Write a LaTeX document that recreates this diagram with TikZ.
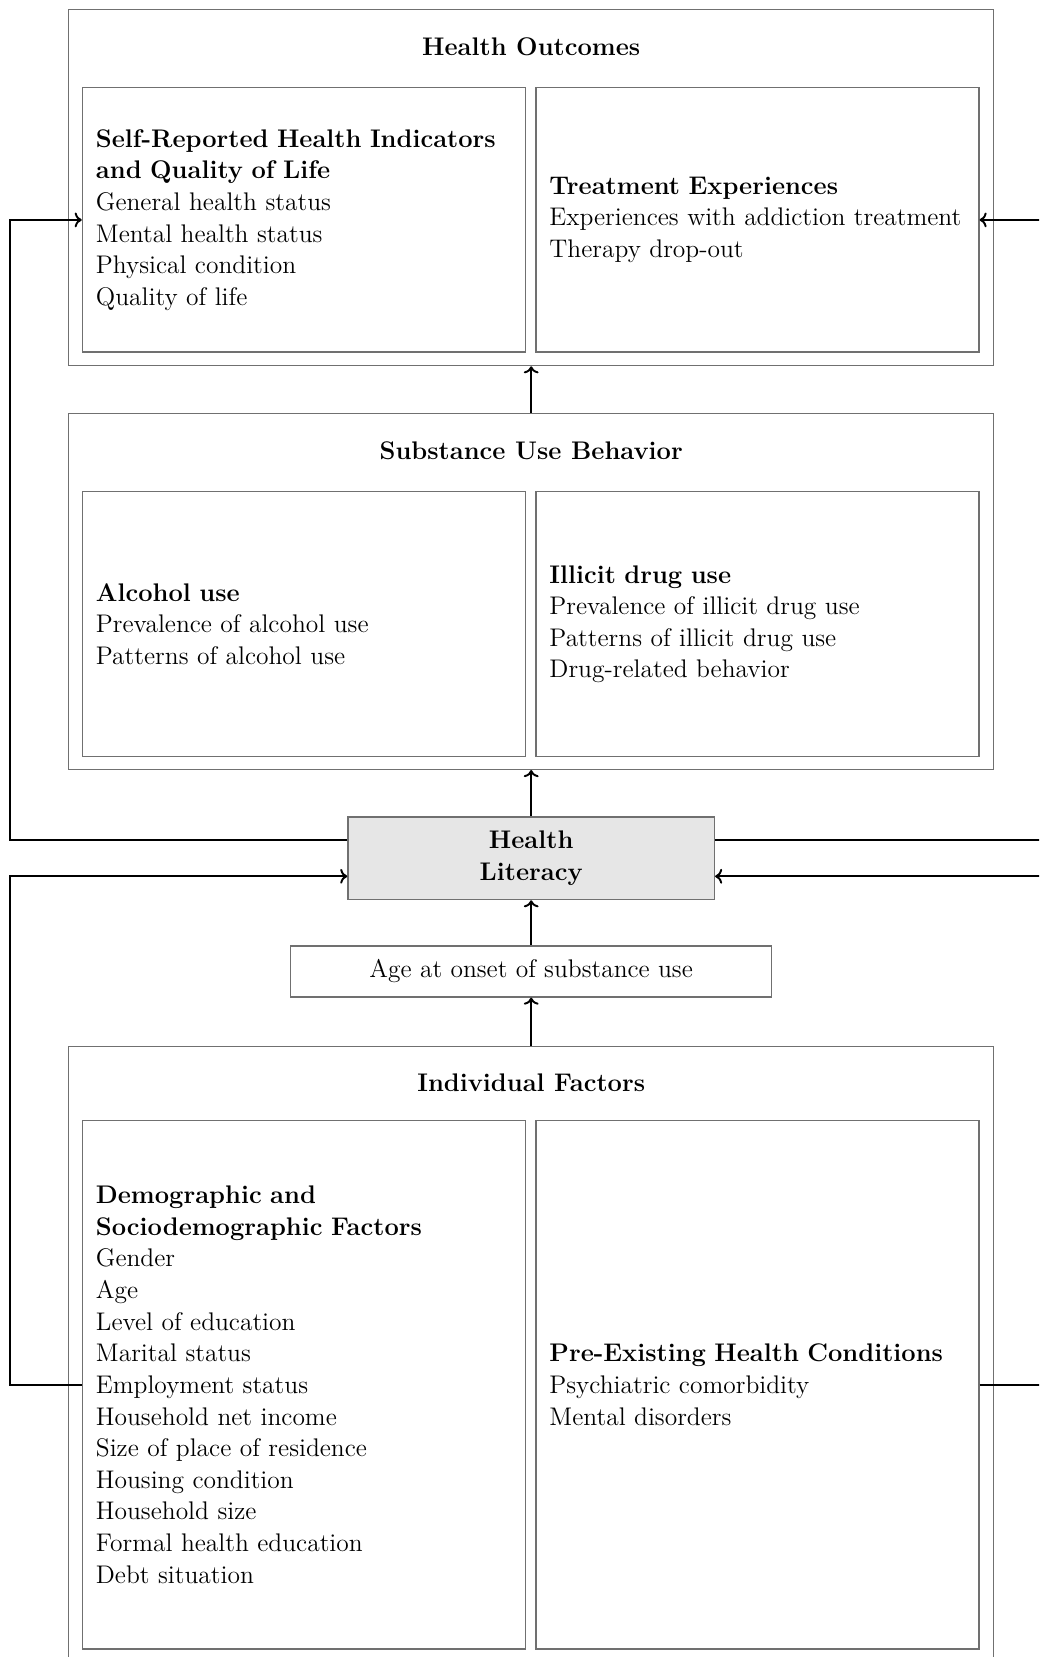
\documentclass[tikz,border=0pt]{standalone}
\usepackage{tikz}
\usetikzlibrary{arrows.meta,calc,positioning}
\definecolor{FrameGray}{HTML}{707070}
\definecolor{LitGray}{HTML}{E6E6E6}

\begin{document}
\begin{tikzpicture}[x=0.02cm,y=-0.02cm,
      font=\fontsize{14.5}{18}\selectfont,
      groupbox/.style={draw=FrameGray,line width=0.8pt,minimum width=18.5cm,inner sep=0pt},
      panel/.style={draw=FrameGray,line width=0.8pt,minimum width=8.86cm,
      text width=8.32cm,inner xsep=0.27cm,align=left},
      heading/.style={font=\fontsize{14.5}{18}\selectfont\bfseries},
      link/.style={line width=1.1pt,->}]
      \clip (0,0) rectangle (1039,1657);
      % health outcomes
      \node[groupbox,minimum height=7.12cm] (out) at (531.2,187.6) {};
      \node[heading] (outtitle) at (531.2,46.5) {Health Outcomes};
      \node[panel,minimum height=5.29cm] (selfrep) at (303.9,219.9)
      {\textbf{Self-Reported Health Indicators}\\\textbf{and Quality of Life}\\General health status\\Mental health status\\Physical condition\\Quality of life};
      \node[panel,minimum height=5.29cm] (treat) at (757.4,219.9)
      {\textbf{Treatment Experiences}\\Experiences with addiction treatment\\Therapy drop-out};
      % substance use
      \node[groupbox,minimum height=7.12cm] (sub) at (531.2,591.4) {};
      \node[heading] (subtitle) at (531.2,450.3) {Substance Use Behavior};
      \node[panel,minimum height=5.3cm] (alc) at (303.9,624.2)
      {\textbf{Alcohol use}\\Prevalence of alcohol use\\Patterns of alcohol use};
      \node[panel,minimum height=5.3cm] (drug) at (757.4,624.2)
      {\textbf{Illicit drug use}\\Prevalence of illicit drug use\\Patterns of illicit drug use\\Drug-related behavior};
      % health literacy and onset
      \node[draw=FrameGray,line width=0.8pt,fill=LitGray,minimum width=7.33cm,minimum height=1.65cm,
      align=center,heading] (lit) at (531.2,858.3) {Health\\Literacy};
      \node[draw=FrameGray,line width=0.8pt,minimum width=9.62cm,minimum height=1.02cm] (onset)
      at (531.2,971.4) {Age at onset of substance use};
      % individual factors
      \node[groupbox,minimum height=12.33cm] (indiv) at (531.2,1354.5) {};
      \node[heading] (indivtitle) at (531.2,1082.4) {Individual Factors};
      \node[panel,minimum height=10.57cm] (demo) at (303.9,1384.7)
      {\textbf{Demographic and}\\\textbf{Sociodemographic Factors}\\Gender\\Age\\Level of education\\Marital status\\Employment status\\Household net income\\Size of place of residence\\Housing condition\\Household size\\Formal health education\\Debt situation};
      \node[panel,minimum height=10.57cm] (precond) at (757.4,1384.7)
      {\textbf{Pre-Existing Health Conditions}\\Psychiatric comorbidity\\Mental disorders};
      % connectors
      \coordinate (lbus) at (10,0);
      \coordinate (rbus) at (1070,0);
      \draw[link] (sub.north) -- (out.south);
      \draw[link] (lit.north) -- (sub.south);
      \draw[link] (onset.north) -- (lit.south);
      \draw[link] (indiv.north) -- (onset.south);
      \draw[link] ([yshift=0.36cm]lit.west) -| (lbus |- selfrep.west) -- (selfrep.west);
      \draw[link] (demo.west) -- (lbus |- demo.west) |- ([yshift=-0.36cm]lit.west);
      \draw[link] ([yshift=0.36cm]lit.east) -| (rbus |- treat.east) -- (treat.east);
      \draw[link] (precond.east) -- (rbus |- precond.east) |- ([yshift=-0.36cm]lit.east);
    \end{tikzpicture}
\end{document}
